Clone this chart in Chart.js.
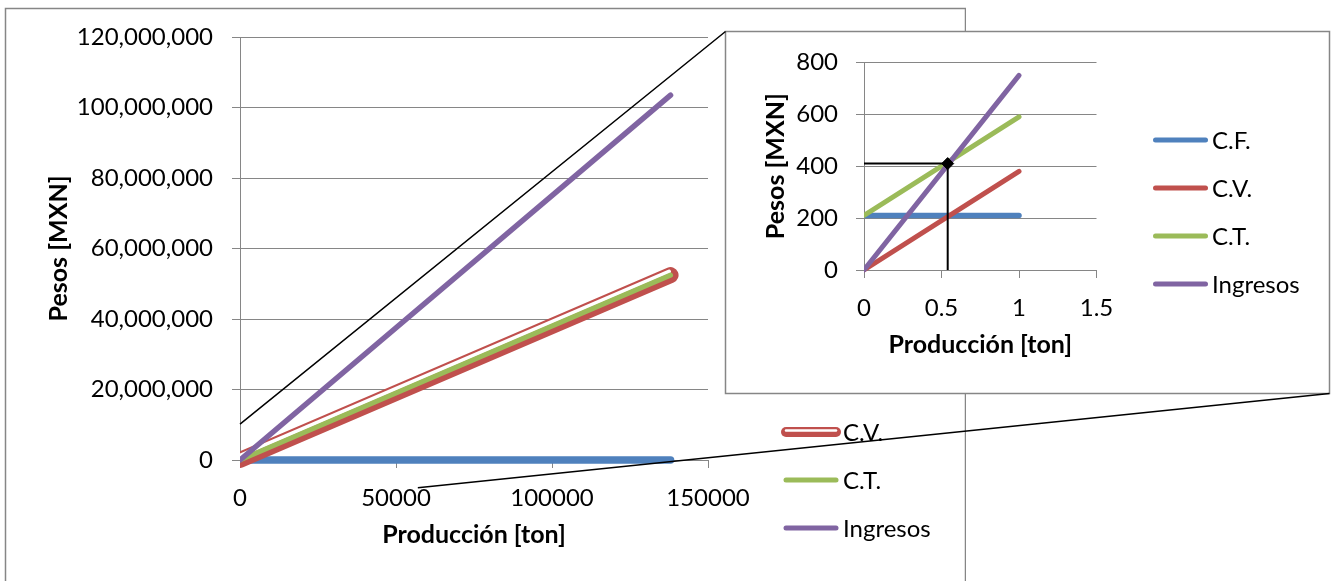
<!DOCTYPE html>
<html><head><meta charset="utf-8">
<script src="https://cdn.jsdelivr.net/npm/chart.js@4"></script>
<style>
html,body{margin:0;padding:0;background:#fff;width:1337px;height:581px;overflow:hidden;}
canvas{position:absolute;}
#main{left:0;top:0;}
#inset{left:724px;top:30px;}
#overlay{left:0;top:0;pointer-events:none;}
</style></head><body>
<canvas id="main" width="966" height="600"></canvas>
<canvas id="inset" width="607" height="365"></canvas>
<canvas id="overlay" width="1337" height="581"></canvas>
<script>
// ---------- DATA ----------
const seriesLabels = ['C.F.', 'C.V.', 'C.T.', 'Ingresos'];
// main chart: full production range
const mainProduction = [0, 138000];
const mainCF = [210, 210];
const mainCV = [0, 52440000];
const mainCT = [210, 52440210];
const mainIngresos = [0, 103500000];
const mainXTicks = [0, 50000, 100000, 150000];
const mainYTicks = [0, 20000000, 40000000, 60000000, 80000000, 100000000, 120000000];
// inset chart: zoom on the first ton
const insetProduction = [0, 1];
const insetCF = [210, 210];
const insetCV = [0, 380];
const insetCT = [210, 590];
const insetIngresos = [0, 750];
const breakEvenX = [0, 0.54, 0.54];
const breakEvenY = [410, 410, 0];
const insetXTicks = [0, 0.5, 1, 1.5];
const insetYTicks = [0, 200, 400, 600, 800];
// zoom connector anchors on the main chart (value space)
const zoomAnchorTop = {x: 0, y: 10200000};
const zoomAnchorBottom = {x: 57000, y: -7900000};

// ---------- STYLE ----------
const colors = ['#4F81BD', '#C0504D', '#9BBB59', '#8064A2'];
const gridColor = '#868686';
const FONT = 'Lato, "Open Sans", sans-serif';
Chart.defaults.font.family = FONT;
Chart.defaults.color = '#000';

const pts = (xs, ys) => xs.map((x, i) => ({x: x, y: ys[i]}));

const decorConfig = {
  main: {
    box: {x: 5.5, y: 8.5, w: 960, h: 800}, fill: false,
    legend: {x0: 786, x1: 836, textX: 843, ys: [384, 432, 480, 528]}
  },
  inset: {
    box: {x: 1.5, y: 1.5, w: 604, h: 362}, fill: true,
    legend: {x0: 431.5, x1: 481.5, textX: 488, ys: [110, 158, 206, 254]}
  }
};

const decor = {
  id: 'decor',
  beforeDraw(chart) {
    const cfg = decorConfig[chart.canvas.id];
    const ctx = chart.ctx, b = cfg.box;
    ctx.save();
    if (cfg.fill) { ctx.fillStyle = '#fff'; ctx.fillRect(b.x, b.y, b.w, b.h); }
    ctx.strokeStyle = gridColor; ctx.lineWidth = 1.5;
    ctx.strokeRect(b.x, b.y, b.w, b.h);
    ctx.restore();
  },
  afterDatasetDraw(chart, args) {
    const ds = chart.data.datasets[args.index];
    if (!ds.compound) return;
    const p = args.meta.data;
    const ctx = chart.ctx;
    ctx.save();
    ctx.beginPath();
    ctx.rect(chart.chartArea.left, 0, chart.width, chart.height);
    ctx.clip();
    ctx.strokeStyle = '#fff'; ctx.lineWidth = 4; ctx.lineCap = 'round';
    ctx.beginPath();
    for (let i = 0; i < p.length - 1; i++) {
      const dx = p[i+1].x - p[i].x, dy = p[i+1].y - p[i].y, len = Math.hypot(dx, dy);
      const nx = dy / len * 4, ny = -dx / len * 4;
      if (i === 0) ctx.moveTo(p[i].x + nx, p[i].y + ny);
      ctx.lineTo(p[i+1].x + nx, p[i+1].y + ny);
    }
    ctx.stroke();
    ctx.restore();
  },
  afterDraw(chart) {
    const L = decorConfig[chart.canvas.id].legend;
    const ctx = chart.ctx;
    ctx.save();
    ctx.font = '24px ' + FONT;
    ctx.textBaseline = 'middle'; ctx.textAlign = 'left'; ctx.fillStyle = '#000';
    chart.data.datasets.forEach((ds, i) => {
      if (ds.noLegend) return;
      const y = L.ys[i];
      ctx.lineCap = 'round';
      if (ds.compound) {
        ctx.strokeStyle = ds.borderColor; ctx.lineWidth = 10;
        ctx.beginPath(); ctx.moveTo(L.x0, y); ctx.lineTo(L.x1, y); ctx.stroke();
        ctx.strokeStyle = '#fff'; ctx.lineWidth = 2.5;
        ctx.beginPath(); ctx.moveTo(L.x0, y - 1.5); ctx.lineTo(L.x1, y - 1.5); ctx.stroke();
      } else {
        ctx.strokeStyle = ds.borderColor; ctx.lineWidth = 5;
        ctx.beginPath(); ctx.moveTo(L.x0, y); ctx.lineTo(L.x1, y); ctx.stroke();
      }
      ctx.fillText(ds.label, L.textX, y + 1);
    });
    ctx.restore();
  }
};

function lineDs(label, data, color, width, order, extra) {
  return Object.assign({label: label, data: data, showLine: true, borderColor: color,
    backgroundColor: color, borderWidth: width, pointRadius: 0, borderCapStyle: 'round',
    borderJoinStyle: 'round', order: order, tension: 0,
    clip: {left: 0, top: false, right: false, bottom: false}}, extra || {});
}

function axes(o) {
  return {
    x: {
      type: 'linear', min: o.xTicks[0], max: o.xTicks[o.xTicks.length - 1],
      afterBuildTicks: s => { s.ticks = o.xTicks.map(v => ({value: v})); },
      ticks: {callback: v => String(v), font: {size: 24}, color: '#000', padding: 16, maxRotation: 0, autoSkip: false},
      grid: {drawOnChartArea: false, drawTicks: true, tickLength: 8, color: gridColor, lineWidth: 1},
      border: {display: true, color: gridColor, width: 1},
      title: {display: true, text: 'Producción [ton]', font: {size: 25, weight: 'bold'}, color: '#000', padding: {top: 0, bottom: 10}},
      afterFit: s => { s.height = 100; }
    },
    y: {
      type: 'linear', min: o.yTicks[0], max: o.yTicks[o.yTicks.length - 1],
      afterBuildTicks: s => { s.ticks = o.yTicks.map(v => ({value: v})); },
      ticks: {callback: o.yFmt, font: {size: 24}, color: '#000', padding: o.yPad, autoSkip: false},
      grid: {drawOnChartArea: true, drawTicks: true, tickLength: 8, color: gridColor, lineWidth: 1},
      border: {display: true, color: gridColor, width: 1},
      title: {display: true, text: 'Pesos [MXN]', font: {size: 25, weight: 'bold'}, color: '#000', padding: {top: o.yTitlePad, bottom: 0}},
      afterFit: s => { s.width = o.yWidth; }
    }
  };
}

const mainChart = new Chart(document.getElementById('main'), {
  type: 'scatter',
  data: {datasets: [
    lineDs(seriesLabels[0], pts(mainProduction, mainCF), colors[0], 7.5, 3),
    lineDs(seriesLabels[1], pts(mainProduction, mainCV), colors[1], 16, 2, {compound: true}),
    lineDs(seriesLabels[2], pts(mainProduction, mainCT), colors[2], 5, 1),
    lineDs(seriesLabels[3], pts(mainProduction, mainIngresos), colors[3], 5.5, 0)
  ]},
  options: {
    responsive: false, animation: false, devicePixelRatio: 1, events: [],
    layout: {padding: {left: 0, top: 37, right: 258, bottom: 40}},
    plugins: {legend: {display: false}, tooltip: {enabled: false}},
    scales: axes({xTicks: mainXTicks, yTicks: mainYTicks, yFmt: v => v.toLocaleString('en-US'), yPad: 19, yTitlePad: 44, yWidth: 240})
  },
  plugins: [decor]
});

const insetChart = new Chart(document.getElementById('inset'), {
  type: 'scatter',
  data: {datasets: [
    lineDs(seriesLabels[0], pts(insetProduction, insetCF), colors[0], 5.5, 4),
    lineDs(seriesLabels[1], pts(insetProduction, insetCV), colors[1], 5, 3),
    lineDs(seriesLabels[2], pts(insetProduction, insetCT), colors[2], 5, 2),
    lineDs(seriesLabels[3], pts(insetProduction, insetIngresos), colors[3], 5, 1),
    lineDs('Equilibrio', pts(breakEvenX, breakEvenY), '#000', 2, 0,
      {noLegend: true, borderCapStyle: 'butt', borderJoinStyle: 'miter', pointRadius: [0, 6, 0],
       pointStyle: 'rectRot', pointBackgroundColor: '#000', pointBorderColor: '#000', pointBorderWidth: 1})
  ]},
  options: {
    responsive: false, animation: false, devicePixelRatio: 1, events: [],
    layout: {padding: {left: 0, top: 31, right: 234.5, bottom: 25}},
    plugins: {legend: {display: false}, tooltip: {enabled: false}},
    scales: axes({xTicks: insetXTicks, yTicks: insetYTicks, yFmt: v => String(v), yPad: 18, yTitlePad: 37, yWidth: 140})
  },
  plugins: [decor]
});

// zoom connector lines (from main chart anchors to the inset frame corners)
(function () {
  const ov = document.getElementById('overlay').getContext('2d');
  const inset = document.getElementById('inset');
  const ib = decorConfig.inset.box;
  const left = inset.offsetLeft + ib.x, top = inset.offsetTop + ib.y;
  const right = left + ib.w, bottom = top + ib.h;
  const sx = mainChart.scales.x, sy = mainChart.scales.y;
  ov.strokeStyle = '#000'; ov.lineWidth = 1.5;
  ov.beginPath();
  ov.moveTo(sx.getPixelForValue(zoomAnchorTop.x), sy.getPixelForValue(zoomAnchorTop.y));
  ov.lineTo(left, top);
  ov.moveTo(sx.getPixelForValue(zoomAnchorBottom.x), sy.getPixelForValue(zoomAnchorBottom.y));
  ov.lineTo(right, bottom);
  ov.stroke();
})();
</script>
</body></html>
